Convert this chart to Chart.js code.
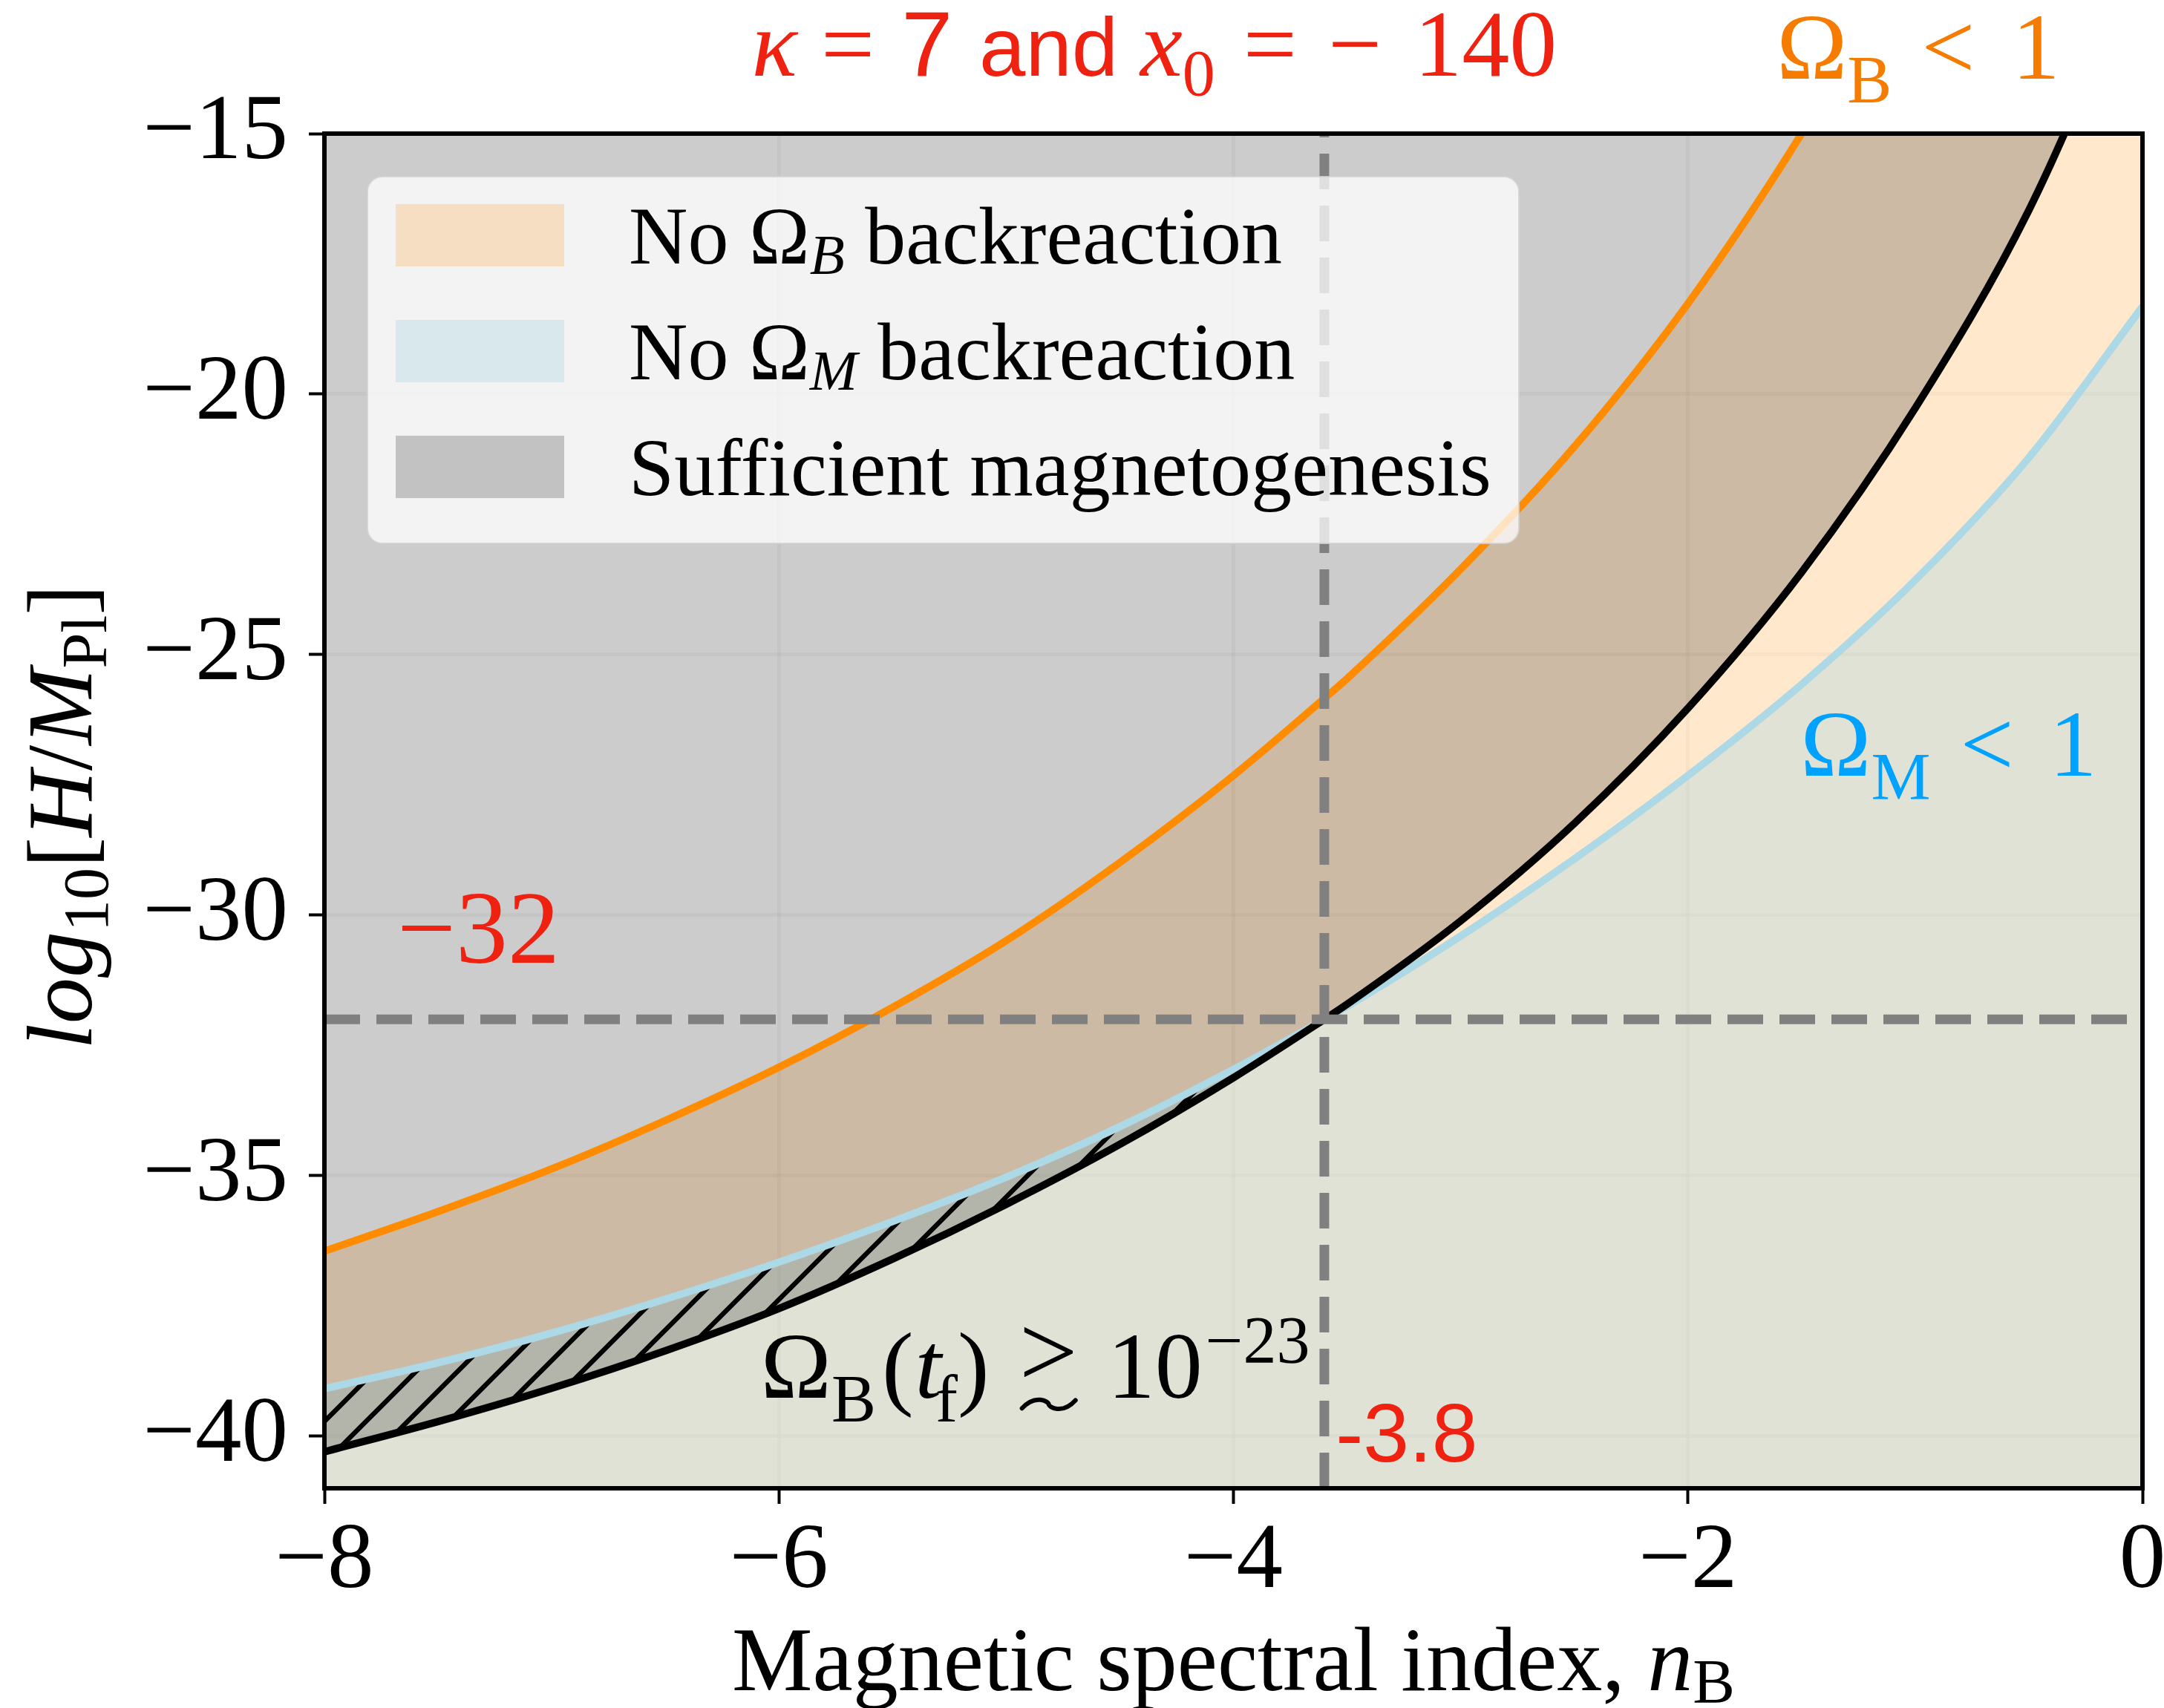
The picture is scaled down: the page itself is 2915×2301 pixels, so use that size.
<!DOCTYPE html>
<html><head><meta charset="utf-8">
<script src="https://cdn.jsdelivr.net/npm/chart.js@4.4.1/dist/chart.umd.min.js"></script>
<style>html,body{margin:0;padding:0;background:#fff}#wrap{width:2915px;height:2301px}</style>
</head><body><div id="wrap"><canvas id="c" width="2915" height="2301"></canvas></div>
<script>
// ---- data ----
const nB      = [-8, -7.5, -7, -6.5, -6, -5.5, -5, -4.5, -4, -3.6, -3.5, -3, -2.5, -2, -1.5, -1, -0.5, 0];
const omegaB1 = [-36.45, -35.69, -34.87, -33.94, -32.92, -31.77, -30.49, -28.99, -27.32, -25.84, -25.46, -23.36, -21.01, -18.26, -15.0, -11.25, -6.9, -1.9];
const omegaM1 = [-39.09, -38.59, -38.02, -37.37, -36.66, -35.88, -35.03, -34.06, -32.96, -32.0, -31.75, -30.40, -28.92, -27.32, -25.57, -23.57, -21.22, -18.32];
const magneto = [-40.3, -39.72, -39.08, -38.36, -37.55, -36.6, -35.55, -34.4, -33.12, -32.0, -31.71, -30.11, -28.24, -26.03, -23.42, -20.27, -16.47, -11.5];
const critIndex = -3.6;   // vertical dashed line
const critLogH  = -32;    // horizontal dashed line
const xTicks = [-8, -6, -4, -2, 0];
const yTicks = [-40, -35, -30, -25, -20, -15];
const xRange = [-8, 0];
const yRange = [-41, -15];

// ---- styles ----
const SERIF = "'Liberation Serif','Times New Roman',serif";
const SANS  = "'Liberation Sans',Arial,sans-serif";
const RED = '#ef2211', ORANGE_TXT = '#f57c00', BLUE_TXT = '#00a2ff';
const fillOrange = 'rgba(255,140,0,0.2)';
const fillBlue   = 'rgba(173,216,230,0.38)';
const fillGray   = 'rgba(0,0,0,0.2)';

function hatch() {
  const s = 56, c = document.createElement('canvas');
  c.width = s; c.height = s;
  const g = c.getContext('2d');
  g.strokeStyle = '#000'; g.lineWidth = 6.5; g.lineCap = 'square';
  g.beginPath();
  g.moveTo(-s, 2*s); g.lineTo(2*s, -s);
  g.moveTo(-s, s); g.lineTo(s, -s);
  g.moveTo(0, 2*s); g.lineTo(2*s, 0);
  g.stroke();
  return g.createPattern(c, 'repeat');
}

function pts(ys) { return nB.map((x, i) => ({x, y: ys[i]})); }

// draws a run of text pieces; returns the start x of every piece
function rich(ctx, x, y, runs, align) {
  let w = 0;
  for (const r of runs) { ctx.font = r.f; w += (r.gap || 0) + ctx.measureText(r.t).width; }
  let cx = align === 'center' ? x - w / 2 : x;
  const xs = [];
  for (const r of runs) {
    ctx.font = r.f; cx += r.gap || 0;
    xs.push(cx);
    ctx.fillText(r.t, cx, y + (r.dy || 0));
    cx += ctx.measureText(r.t).width;
  }
  return xs;
}

const annot = {
  id: 'annot',
  afterDatasetsDraw(chart) {
    const {ctx, chartArea: a, scales: {x, y}} = chart;
    ctx.save();
    ctx.lineWidth = 6; ctx.strokeStyle = '#000';
    ctx.strokeRect(a.left, a.top, a.right - a.left, a.bottom - a.top);
    ctx.textAlign = 'left'; ctx.textBaseline = 'alphabetic';

    // in-plot annotations
    ctx.fillStyle = RED;
    rich(ctx, x.getPixelForValue(-7.68), y.getPixelForValue(-30.92), [{t: '−32', f: `140px ${SERIF}`}]);
    rich(ctx, x.getPixelForValue(-3.55), y.getPixelForValue(-40.49), [{t: '-3.8', f: `111px ${SANS}`}]);
    ctx.fillStyle = '#000';
    const bx = x.getPixelForValue(-6.08), by = y.getPixelForValue(-39.26);
    const xs = rich(ctx, bx, by, [
      {t: 'Ω', f: `128px ${SERIF}`},
      {t: 'B', f: `90px ${SERIF}`, dy: 32},
      {t: '(', f: `128px ${SERIF}`, gap: 8},
      {t: 't', f: `italic 128px ${SERIF}`, gap: 2},
      {t: 'f', f: `90px ${SERIF}`, dy: 32, gap: -8},
      {t: ')', f: `128px ${SERIF}`},
      {t: '>', f: `140px ${SERIF}`, dy: -15, gap: 40},
      {t: '10', f: `128px ${SERIF}`, gap: 40},
      {t: '−23', f: `90px ${SERIF}`, dy: -47, gap: 4}
    ]);
    // tilde under the ">" (forms the "≳" sign)
    {
      const tx = xs[6] + 4, ty = by + 9, tw = 72, amp = 9;
      ctx.beginPath();
      ctx.moveTo(tx, ty + amp * 0.6);
      ctx.bezierCurveTo(tx + tw * 0.25, ty - amp * 1.6, tx + tw * 0.5, ty - amp * 0.4, tx + tw * 0.5, ty);
      ctx.bezierCurveTo(tx + tw * 0.5, ty + amp * 0.4, tx + tw * 0.75, ty + amp * 1.6, tx + tw, ty - amp * 0.6);
      ctx.lineWidth = 6; ctx.strokeStyle = '#000'; ctx.lineCap = 'round';
      ctx.stroke();
    }
    ctx.fillStyle = BLUE_TXT;
    rich(ctx, x.getPixelForValue(-1.505), y.getPixelForValue(-27.33), [
      {t: 'Ω', f: `128px ${SERIF}`},
      {t: 'M', f: `90px ${SERIF}`, dy: 32},
      {t: '<', f: `128px ${SERIF}`, gap: 40},
      {t: '1', f: `128px ${SERIF}`, gap: 48}
    ]);
    ctx.fillStyle = ORANGE_TXT;
    rich(ctx, x.getPixelForValue(-1.61), y.getPixelForValue(-13.95), [
      {t: 'Ω', f: `128px ${SERIF}`},
      {t: 'B', f: `90px ${SERIF}`, dy: 32},
      {t: '<', f: `128px ${SERIF}`, gap: 40},
      {t: '1', f: `128px ${SERIF}`, gap: 50}
    ]);
    ctx.fillStyle = RED;
    rich(ctx, x.getPixelForValue(-6.12), y.getPixelForValue(-13.89), [
      {t: 'κ', f: `italic 128px ${SERIF}`},
      {t: '=', f: `128px ${SERIF}`, gap: 32},
      {t: '7', f: `124px ${SANS}`, gap: 36},
      {t: 'and', f: `112px ${SANS}`, gap: 36},
      {t: 'x', f: `italic 128px ${SERIF}`, gap: 30},
      {t: '0', f: `88px ${SERIF}`, dy: 26},
      {t: '=', f: `128px ${SERIF}`, gap: 38},
      {t: '−', f: `128px ${SERIF}`, gap: 42},
      {t: '140', f: `128px ${SERIF}`, gap: 44}
    ]);

    // legend
    const lx = a.left + 58, ly = a.top + 58, lw = 1551, lh = 494, r = 20;
    ctx.beginPath();
    ctx.roundRect(lx, ly, lw, lh, r);
    ctx.fillStyle = 'rgba(255,255,255,0.75)'; ctx.fill();
    ctx.lineWidth = 2; ctx.strokeStyle = 'rgba(210,210,210,0.8)'; ctx.stroke();
    const rows = [
      {c: fillOrange, runs: [{t: 'No Ω', f: `110px ${SERIF}`}, {t: 'B', f: `italic 77px ${SERIF}`, dy: 14}, {t: ' backreaction', f: `110px ${SERIF}`}]},
      {c: fillBlue,   runs: [{t: 'No Ω', f: `110px ${SERIF}`}, {t: 'M', f: `italic 77px ${SERIF}`, dy: 14}, {t: ' backreaction', f: `110px ${SERIF}`}]},
      {c: fillGray,   runs: [{t: 'Sufficient magnetogenesis', f: `110px ${SERIF}`}]}
    ];
    rows.forEach((row, i) => {
      ctx.fillStyle = row.c;
      ctx.fillRect(a.left + 96, a.top + 95 + 156 * i, 227, 84);
      ctx.fillStyle = '#000';
      rich(ctx, a.left + 410, a.top + 175 + 156 * i, row.runs);
    });

    // axis titles
    ctx.fillStyle = '#000';
    rich(ctx, (a.left + a.right) / 2, 2277, [
      {t: 'Magnetic spectral index, ', f: `122px ${SERIF}`},
      {t: 'n', f: `italic 122px ${SERIF}`},
      {t: 'B', f: `85px ${SERIF}`, dy: 17}
    ], 'center');
    ctx.save();
    ctx.translate(123, (a.top + a.bottom) / 2 + 8);
    ctx.rotate(-Math.PI / 2);
    rich(ctx, 0, 0, [
      {t: 'log', f: `italic 124px ${SERIF}`},
      {t: '10', f: `86px ${SERIF}`, dy: 22},
      {t: '[', f: `124px ${SERIF}`},
      {t: 'H', f: `italic 124px ${SERIF}`},
      {t: '/', f: `124px ${SERIF}`},
      {t: 'M', f: `italic 124px ${SERIF}`},
      {t: 'Pl', f: `86px ${SERIF}`, dy: 20},
      {t: ']', f: `124px ${SERIF}`}
    ], 'center');
    ctx.restore();
    ctx.restore();
  }
};

const lineBase = {pointRadius: 0, pointHoverRadius: 0, cubicInterpolationMode: 'monotone', borderJoinStyle: 'round'};
const minusFmt = v => String(v).replace('-', '−');

new Chart(document.getElementById('c'), {
  type: 'line',
  data: {
    datasets: [
      {...lineBase, label: 'No ΩB backreaction', data: pts(omegaB1), borderColor: 'rgb(255,140,0)', borderWidth: 10, fill: 'start', backgroundColor: fillOrange, order: 5},
      {...lineBase, label: 'No ΩM backreaction', data: pts(omegaM1), borderColor: 'rgb(173,216,230)', borderWidth: 10, fill: 'start', backgroundColor: fillBlue, order: 4},
      {...lineBase, label: 'Sufficient magnetogenesis', data: pts(magneto), borderColor: '#000', borderWidth: 10, fill: 'end', backgroundColor: fillGray, order: 3},
      {...lineBase, label: 'hatch', data: pts(omegaM1), borderWidth: 0, borderColor: 'rgba(0,0,0,0)', fill: {target: 2, above: hatch(), below: 'rgba(0,0,0,0)'}, order: 2},
      {pointRadius: 0, label: 'h', data: [{x: xRange[0], y: critLogH}, {x: xRange[1], y: critLogH}], borderColor: '#808080', borderWidth: 13, borderDash: [48, 22], fill: false, order: 1},
      {pointRadius: 0, label: 'v', data: [{x: critIndex, y: yRange[0]}, {x: critIndex, y: yRange[1]}], borderColor: '#808080', borderWidth: 13, borderDash: [48, 22], fill: false, order: 0}
    ]
  },
  options: {
    responsive: false, animation: false, devicePixelRatio: 1,
    layout: {padding: {left: 0, right: 29, top: 180, bottom: 0}},
    plugins: {legend: {display: false}, tooltip: {enabled: false}, filler: {drawTime: 'beforeDatasetsDraw'}},
    scales: {
      x: {
        type: 'linear', min: xRange[0], max: xRange[1],
        afterBuildTicks: s => { s.ticks = xTicks.map(v => ({value: v})); },
        afterFit: s => { s.height = 296; s.paddingLeft = 0; s.paddingRight = 0; },
        border: {display: false},
        grid: {color: 'rgba(0,0,0,0.035)', lineWidth: 5, tickColor: '#000', tickWidth: 4, tickLength: 21},
        ticks: {font: {family: SERIF, size: 125}, color: '#000', padding: 4, maxRotation: 0, callback: minusFmt}
      },
      y: {
        type: 'linear', min: yRange[0], max: yRange[1],
        afterBuildTicks: s => { s.ticks = yTicks.map(v => ({value: v})); },
        afterFit: s => { s.width = 437; s.paddingTop = 0; s.paddingBottom = 0; },
        border: {display: false},
        grid: {color: 'rgba(0,0,0,0.035)', lineWidth: 5, tickColor: '#000', tickWidth: 4, tickLength: 21},
        ticks: {font: {family: SERIF, size: 125}, color: '#000', padding: 28, callback: minusFmt}
      }
    }
  },
  plugins: [annot]
});
</script></body></html>
